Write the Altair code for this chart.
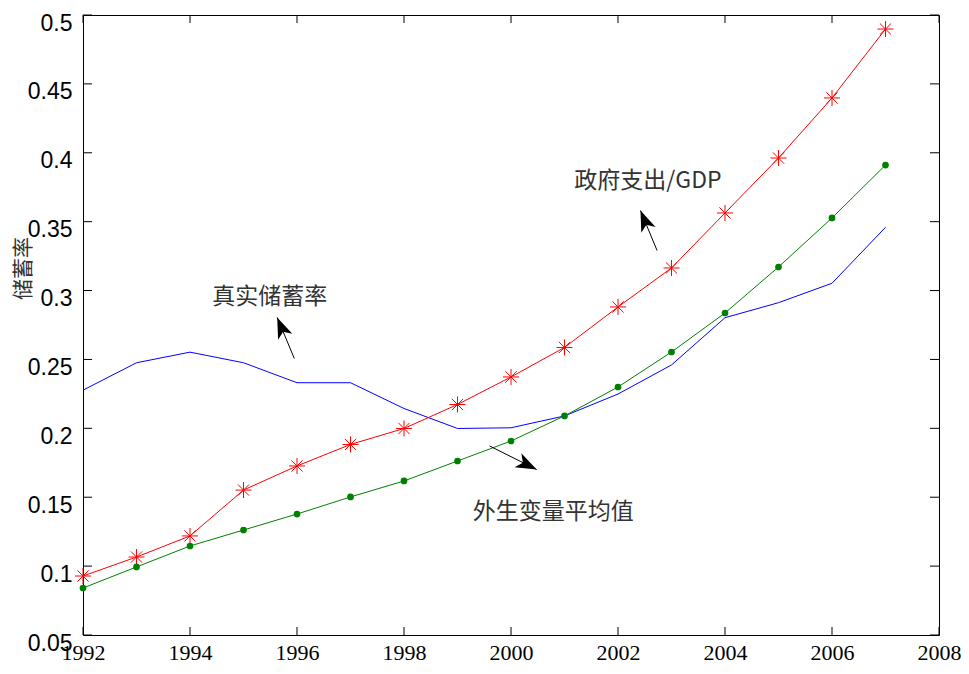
import altair as alt
import pandas as pd

years = list(range(1992, 2008))
real_saving = [0.2277, 0.2476, 0.2553, 0.2476, 0.2331, 0.2331, 0.2144, 0.1999,
               0.2004, 0.2090, 0.2249, 0.2460, 0.2803, 0.2912, 0.3053, 0.3459]
gov_spending = [0.0928, 0.1066, 0.1219, 0.1552, 0.1727, 0.1883, 0.1999, 0.2173,
                0.2373, 0.2587, 0.2881, 0.3164, 0.3563, 0.3962, 0.4398, 0.4898]
exog_mean = [0.0841, 0.0994, 0.1146, 0.1262, 0.1378, 0.1502, 0.1618, 0.1763,
             0.1908, 0.2090, 0.2300, 0.2554, 0.2837, 0.3171, 0.3527, 0.3911]

series_names = ["真实储蓄率", "政府支出/GDP", "外生变量平均值"]
series_colors = ["#0000ff", "#ff0000", "#008000"]

x_ticks = list(range(1992, 2009, 2))
y_ticks = [0.05, 0.1, 0.15, 0.2, 0.25, 0.3, 0.35, 0.4, 0.45, 0.5]

# annotations (data coordinates)
label_text = ["真实储蓄率", "政府支出/GDP", "外生变量平均值"]
label_x = [1995.49, 2002.56, 2000.79]
label_y = [0.2950, 0.3792, 0.1396]
arrow_tail_x = [1995.95, 2002.73, 1999.60]
arrow_tail_y = [0.2507, 0.3291, 0.1872]
arrow_tip_x = [1995.63, 2002.42, 2000.48]
arrow_tip_y = [0.2805, 0.3581, 0.1701]
arrow_angle = [337.5, 337.6, 116.3]

W, H = 856, 620

rows = []
for name, vals in zip(series_names, [real_saving, gov_spending, exog_mean]):
    for yr, v in zip(years, vals):
        rows.append({"year": yr, "value": v, "series": name})
df = pd.DataFrame(rows)

xs = alt.Scale(domain=[1992, 2008], nice=False, zero=False)
ys = alt.Scale(domain=[0.05, 0.5], nice=False, zero=False)

x_axis = alt.Axis(values=x_ticks, format="d", grid=False, ticks=False, domain=False,
                  labelFont="Liberation Sans Narrow", labelFontSize=22, labelColor="black",
                  labelPadding=7, title=None, labelFlush=False)
y_axis = alt.Axis(values=y_ticks, format="~g", grid=False, ticks=False, domain=False,
                  labelFont="Liberation Sans", labelFontSize=23, labelColor="black",
                  labelPadding=11, labelOffset=8, labelFlush=False,
                  title="储蓄率", titleFont="Noto Sans CJK SC", titleFontSize=21,
                  titleFontWeight="normal", titleColor="#333333",
                  titleAngle=270, titleX=-60, titleY=253, titleAlign="center",
                  titleBaseline="middle")

base = alt.Chart(df)

lines = base.mark_line(strokeWidth=1).encode(
    x=alt.X("year:Q", scale=xs, axis=x_axis),
    y=alt.Y("value:Q", scale=ys, axis=y_axis),
    color=alt.Color("series:N", scale=alt.Scale(domain=series_names, range=series_colors), legend=None),
)

asterisk = "M-1,0L1,0M0,-1L0,1M-0.7,-0.7L0.7,0.7M-0.7,0.7L0.7,-0.7"
red_pts = base.transform_filter(alt.datum.series == series_names[1]).mark_point(
    shape=asterisk, size=256, filled=False, stroke="#ff0000", strokeWidth=1, opacity=1
).encode(x=alt.X("year:Q", scale=xs), y=alt.Y("value:Q", scale=ys))

green_pts = base.transform_filter(alt.datum.series == series_names[2]).mark_circle(
    size=45, color="#008000", opacity=1
).encode(x=alt.X("year:Q", scale=xs), y=alt.Y("value:Q", scale=ys))

ydf = pd.DataFrame({"v": y_ticks})
xdf = pd.DataFrame({"v": x_ticks})
tick_style = dict(color="black", strokeWidth=1)
left_ticks = alt.Chart(ydf).mark_rule(**tick_style).encode(
    y=alt.Y("v:Q", scale=ys), x=alt.value(0), x2=alt.value(9))
right_ticks = alt.Chart(ydf).mark_rule(**tick_style).encode(
    y=alt.Y("v:Q", scale=ys), x=alt.value(W - 9), x2=alt.value(W))
bottom_ticks = alt.Chart(xdf).mark_rule(**tick_style).encode(
    x=alt.X("v:Q", scale=xs), y=alt.value(H), y2=alt.value(H - 8))
top_ticks = alt.Chart(xdf).mark_rule(**tick_style).encode(
    x=alt.X("v:Q", scale=xs), y=alt.value(0), y2=alt.value(8))

adf = pd.DataFrame({
    "tx": arrow_tail_x, "ty": arrow_tail_y,
    "hx": arrow_tip_x, "hy": arrow_tip_y, "ang": arrow_angle,
})
shafts = alt.Chart(adf).mark_rule(color="black", strokeWidth=1).encode(
    x=alt.X("tx:Q", scale=xs), y=alt.Y("ty:Q", scale=ys),
    x2="hx:Q", y2="hy:Q")
head_path = "M0,0L0.7,1.9L0,1.4L-0.7,1.9Z"
heads = alt.Chart(adf).mark_point(
    shape=head_path, size=484, filled=True, color="black", opacity=1, strokeWidth=0
).encode(x=alt.X("hx:Q", scale=xs), y=alt.Y("hy:Q", scale=ys),
         angle=alt.Angle("ang:Q", scale=None))

ldf = pd.DataFrame({"t": label_text, "x": label_x, "y": label_y})
labels = alt.Chart(ldf).mark_text(
    font="Noto Sans CJK SC", fontSize=23, color="#333333", align="center", baseline="middle"
).encode(x=alt.X("x:Q", scale=xs), y=alt.Y("y:Q", scale=ys), text="t:N")

chart = alt.layer(
    lines, red_pts, green_pts, left_ticks, right_ticks, bottom_ticks, top_ticks,
    shafts, heads, labels
).properties(
    width=W, height=H,
    autosize=alt.AutoSizeParams(type="none"),
    padding={"left": 75, "top": 7, "right": 22, "bottom": 31},
    background="white",
).configure_view(stroke="black", strokeWidth=1)

chart.save("out.html", embed_options={"renderer": "svg", "actions": False})
